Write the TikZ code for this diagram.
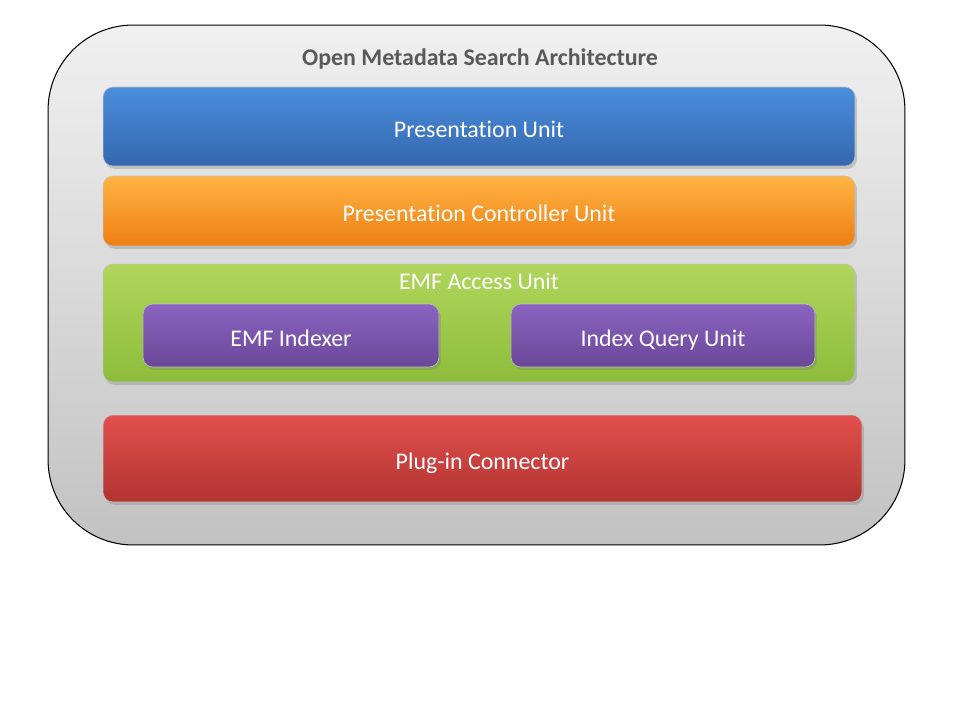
\documentclass[tikz,border=0pt]{standalone}
\usepackage{fontspec}
\setmainfont[Ligatures=NoCommon, RawFeature={-liga;-clig;-calt;-dlig}]{Carlito}
\usetikzlibrary{positioning, shadows}

\definecolor{frameTop}{HTML}{F0F0F0}
\definecolor{frameBot}{HTML}{C2C2C2}
\definecolor{blueTop}{HTML}{4A8EDC}
\definecolor{blueBot}{HTML}{3567AE}
\definecolor{orangeTop}{HTML}{FFB444}
\definecolor{orangeBot}{HTML}{EE7E12}
\definecolor{greenTop}{HTML}{B0D65C}
\definecolor{greenBot}{HTML}{8CBD3A}
\definecolor{purpleTop}{HTML}{8B63C0}
\definecolor{purpleBot}{HTML}{6A4898}
\definecolor{redTop}{HTML}{E2504D}
\definecolor{redBot}{HTML}{B23431}
\definecolor{titleGray}{HTML}{595959}

\begin{document}
\begin{tikzpicture}[x=0.02cm, y=-0.02cm,
  every node/.style={inner sep=0pt, text height=13pt, text depth=1pt},
  unit/.style={rectangle, rounded corners=0.2cm, text=white,
    font=\fontsize{13.6}{16}\selectfont, draw=black!25, line width=0.3pt,
    drop shadow={opacity=0.35, shadow xshift=0.04cm, shadow yshift=-0.06cm}},
  frame/.style={rectangle, rounded corners=1.7cm, draw=black, line width=0.6pt,
    top color=frameTop, bottom color=frameBot}]
\useasboundingbox (0,0) rectangle (960,720);

% outer frame
\node[frame, minimum width=17.14cm, minimum height=10.4cm] (arch) at (476.5,285) {};
\node[text=titleGray, font=\fontsize{13.6}{16}\selectfont\bfseries] (title) at (480,55) {Open Metadata Search Architecture};

% layers
\node[unit, top color=blueTop, bottom color=blueBot, minimum width=15.04cm, minimum height=1.58cm] (pres) at (479,126.5) {Presentation Unit};
\node[unit, top color=orangeTop, bottom color=orangeBot, minimum width=15.04cm, minimum height=1.40cm] (ctrl) at (479,211) {Presentation Controller Unit};
\node[unit, top color=greenTop, bottom color=greenBot, minimum width=15.04cm, minimum height=2.36cm] (emf) at (479,323) {};
\node[text=white, font=\fontsize{13.6}{16}\selectfont] (emflabel) at (479,279) {EMF Access Unit};
\node[unit, top color=purpleTop, bottom color=purpleBot, minimum width=5.92cm, minimum height=1.26cm] (indexer) at (291,335.5) {EMF Indexer};
\node[unit, top color=purpleTop, bottom color=purpleBot, minimum width=6.08cm, minimum height=1.26cm] (query) at (663,335.5) {Index Query Unit};
\node[unit, top color=redTop, bottom color=redBot, minimum width=15.18cm, minimum height=1.74cm] (plugin) at (482.5,458.5) {Plug-in Connector};
\end{tikzpicture}
\end{document}
